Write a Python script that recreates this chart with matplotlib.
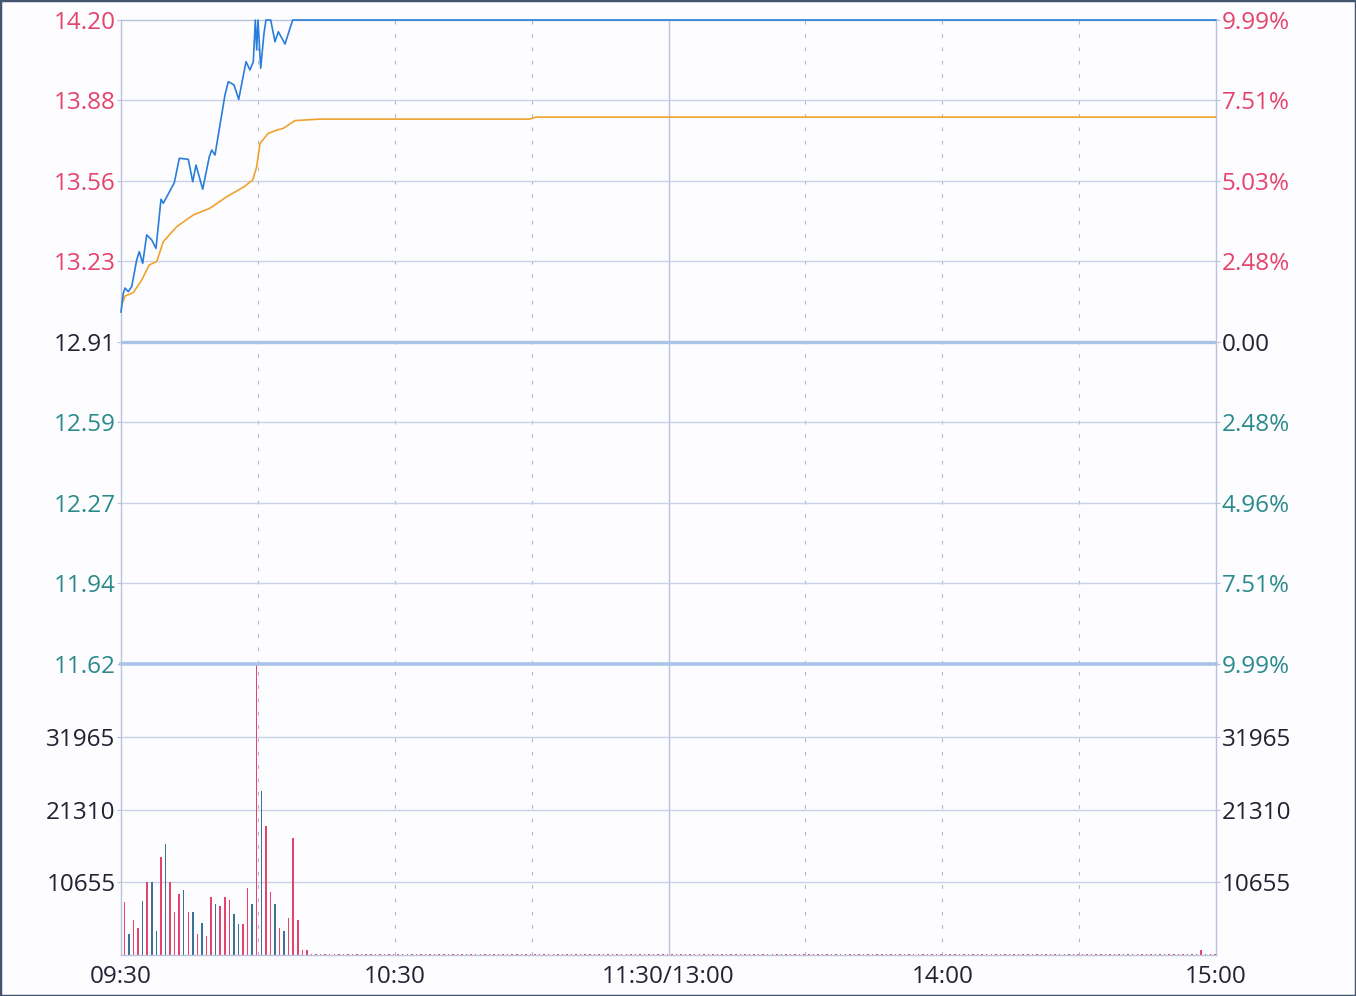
import numpy as np
import matplotlib
matplotlib.use("Agg")
import matplotlib.pyplot as plt
from matplotlib.patches import Rectangle

# minutes since 09:30 (lunch break removed, 240 minutes per session)
price_t = [0, 0.50, 0.88, 1.60, 2.35, 3.44, 4.01, 4.76, 5.63, 6.73, 7.67, 8.77,
           9.27, 11.68, 12.78, 14.75, 15.72, 16.44, 17.91, 19.35, 19.88, 20.60,
           22.79, 23.52, 24.77, 25.80, 27.40, 28.27, 29.0, 29.44, 29.74, 30.03,
           30.62, 31.34, 31.78, 32.81, 33.75, 34.48, 35.95, 37.63, 240]
price = [13.03, 13.105, 13.126, 13.112, 13.132, 13.239, 13.272, 13.225, 13.339,
         13.319, 13.285, 13.482, 13.466, 13.548, 13.646, 13.642, 13.552, 13.619,
         13.522, 13.652, 13.679, 13.659, 13.900, 13.953, 13.940, 13.882, 14.033,
         14.000, 14.033, 14.20, 14.080, 14.20, 14.007, 14.147, 14.20, 14.20,
         14.113, 14.153, 14.104, 14.20, 14.20]

avg_t = [0, 0.88, 2.70, 4.54, 6.20, 7.82, 9.27, 12.21, 15.85, 19.51, 23.17,
         26.81, 28.87, 29.74, 30.47, 32.28, 34.13, 35.57, 38.14, 39.96, 43.6,
         89.6, 90.96, 240]
avg_price = [13.051, 13.094, 13.108, 13.158, 13.219, 13.232, 13.312, 13.372,
             13.419, 13.446, 13.492, 13.530, 13.559, 13.612, 13.706, 13.746,
             13.759, 13.766, 13.797, 13.799, 13.803, 13.803, 13.811, 13.811]

# per-minute volume, first 41 minutes read bar by bar
vol_head = [7770, 3080, 5130, 3960, 7920, 10700, 10700, 3520, 14370, 16270,
            10700, 6300, 8940, 9530, 6300, 6300, 3080, 4690, 2790, 8500,
            7480, 7180, 8500, 8060, 6010, 4540, 4540, 9820, 7480, 42620,
            24040, 18910, 9240, 7480, 3960, 3520, 5420, 17150, 5130, 730, 730]
vol_up = "RBRRBRBBRBRRRBRBRBRRBRRRBBRRBRBRRBRBRRRRR"
# rest of the day sits at limit up: only tiny trades, one small lot near close
vol_tail = [150] * 199
vol_tail[195] = 730

price_ticks = [14.20, 13.8775, 13.555, 13.2325, 12.91, 12.5875, 12.265, 11.9425, 11.62]
price_labels = ["14.20", "13.88", "13.56", "13.23", "12.91", "12.59", "12.27", "11.94", "11.62"]
pct_labels = ["9.99%", "7.51%", "5.03%", "2.48%", "0.00", "2.48%", "4.96%", "7.51%", "9.99%"]
vol_ticks = [10655, 21310, 31965]
vol_labels = ["10655", "21310", "31965"]
time_ticks = [0, 60, 120, 180, 240]
time_labels = ["09:30", "10:30", "11:30/13:00", "14:00", "15:00"]
prev_close = 12.91

RED = "#e4436c"
TEAL = "#2a8a8c"
DARK = "#222233"
GRID = "#c9d0e8"
THICK = "#a9c3e6"
BLUE_BAR = "#3a7396"
EDGE = "#b9c1df"

plt.rcParams["font.family"] = ["Open Sans", "DejaVu Sans"]
plt.rcParams["font.size"] = 17.5

fig = plt.figure(figsize=(13.56, 9.96), dpi=100)
fig.patch.set_facecolor("#fdfdff")
L, W = 121 / 1356, 1095 / 1356
ax = fig.add_axes([L, 1 - 664 / 996, W, 644 / 996])
axv = fig.add_axes([L, 1 - 955 / 996, W, 291 / 996])

def frame(a):
    a.set_facecolor("#fdfdff")
    for s in a.spines.values():
        s.set_color(EDGE)
        s.set_linewidth(1)
    a.set_xlim(0, 240)
    for m in [30, 60, 90, 150, 180, 210]:
        a.axvline(m, color="#aeb6d4", lw=0.8, ls=(0, (3.3, 8.7)), zorder=0)
    a.axvline(120, color=EDGE, lw=1, zorder=0)
    a.tick_params(axis="both", length=3, color=EDGE, pad=1)

# price panel
frame(ax)
ax.set_ylim(11.62, 14.20)
for y in price_ticks[1:-1]:
    if y != prev_close:
        ax.axhline(y, color=GRID, lw=1, zorder=0)
ax.axhline(prev_close, color=THICK, lw=2.4, zorder=1)
ax.plot(avg_t, avg_price, color="#f0a22c", lw=1.2, zorder=4)
ax.plot(price_t, price, color="#2a7ddb", lw=1.2, zorder=5, clip_on=False)
ax.set_yticks(price_ticks)
ax.set_yticklabels(price_labels)
ax.set_xticks([])
axr = ax.twinx()
axr.set_ylim(ax.get_ylim())
axr.set_yticks(price_ticks)
axr.set_yticklabels(pct_labels)
axr.tick_params(axis="y", length=3, color=EDGE, pad=1)
for s in axr.spines.values():
    s.set_visible(False)
for side in (ax.get_yticklabels(), axr.get_yticklabels()):
    for i, t in enumerate(side):
        t.set_color(RED if i < 4 else (DARK if i == 4 else TEAL))

# volume panel
frame(axv)
vol = vol_head + vol_tail
bar_x = np.arange(len(vol)) + 0.75
colors = [RED if c == "R" else BLUE_BAR for c in vol_up] + [RED] * len(vol_tail)
axv.bar(bar_x, vol, width=0.33, color=colors, zorder=2)
axv.set_ylim(0, 42620)
for y in vol_ticks:
    axv.axhline(y, color=GRID, lw=1, zorder=0)
# boundary between panels (price 11.62 / volume max)
axv.axhline(42620, color=THICK, lw=2.6, zorder=3, clip_on=False)
axv.set_yticks(vol_ticks)
axv.set_yticklabels(vol_labels, color=DARK)
axv.set_xticks(time_ticks)
axv.set_xticklabels(time_labels, color=DARK)
axv.tick_params(axis="x", length=0, pad=7)
axv.spines["top"].set_visible(False)
axvr = axv.twinx()
axvr.set_ylim(axv.get_ylim())
axvr.set_yticks(vol_ticks)
axvr.set_yticklabels(vol_labels, color=DARK)
axvr.tick_params(axis="y", length=3, color=EDGE, pad=1)
for s in axvr.spines.values():
    s.set_visible(False)

fig.patches.append(Rectangle((0, 0), 1, 1, transform=fig.transFigure, fill=False,
                             edgecolor="#45556f", lw=2.5))

fig.savefig("out.png", dpi=100, facecolor=fig.get_facecolor())
